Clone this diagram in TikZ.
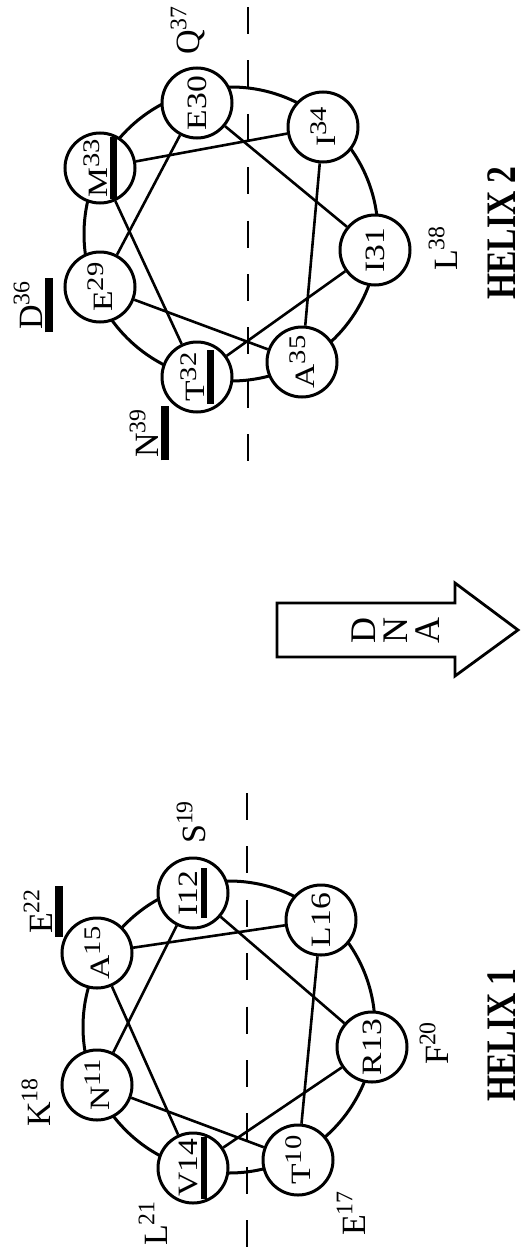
\documentclass[tikz,border=0pt]{standalone}
\usepackage{fontspec}
\usepackage{graphicx}
\setmainfont{Liberation Serif}
\newfontfamily\resfont{Liberation Serif}[FakeStretch=1.2]
\newfontfamily\helixfont{Liberation Serif}[FakeStretch=0.8]
\usepackage{tikz}

% thick bar under a residue name
\newcommand{\thickul}[1]{\setbox0\hbox{#1}\rlap{\kern-.08em\rule[-.32em]{\dimexpr\wd0+.16em\relax}{.22em}}\box0}
% raised number inside a residue circle
\newcommand{\rsup}[1]{\raisebox{.3em}{\scalebox{.85}{#1}}}

\tikzset{
  res/.style={circle, draw, line width=1.5pt, fill=white, minimum size=35pt, inner sep=0pt,
    rotate=90, font=\resfont\fontsize{14}{14}\selectfont},
  lbl/.style={anchor=base, inner sep=0pt, rotate=90, font=\fontsize{17}{17}\selectfont},
  link/.style={line width=1.3pt},
  ring/.style={line width=1.5pt},
  axis/.style={line width=1.3pt, dash pattern=on 13.5pt off 13.2pt},
  helixlbl/.style={rotate=90, anchor=base, inner sep=0pt, font=\helixfont\bfseries\fontsize{21}{21}\selectfont},
}

\begin{document}
\begin{tikzpicture}[x=0.5pt,y=-0.5pt]
\useasboundingbox (0,0) rectangle (525,1258);

% helix 2 (top)
\draw [ring] (231,234) circle (147);
\node [res] (e30) at (197,103) {E30};
\node [res] (i34) at (323,127) {I\rsup{34}};
\node [res] (i31) at (375,250) {I31};
\node [res] (a35) at (302,362) {A\rsup{35}};
\node [res] (t32) at (197,377) {\thickul{T\rsup{32}}};
\node [res] (e29) at (100,287) {E\rsup{29}};
\node [res] (m33) at (100,168) {\thickul{M\rsup{33}}};
\draw [link] (e29) -- (e30);
\draw [link] (e30) -- (i31);
\draw [link] (i31) -- (t32);
\draw [link] (t32) -- (m33);
\draw [link] (m33) -- (i34);
\draw [link] (i34) -- (a35);
\draw [link] (a35) -- (e29);
\node [lbl] (q37) at (199,30) {Q\textsuperscript{37}};
\node [lbl] (d36) at (42,305) {\thickul{D\textsuperscript{36}}};
\node [lbl] (l38) at (457,248) {L\textsuperscript{38}};
\node [lbl] (n39) at (158,433) {\thickul{N\textsuperscript{39}}};
\coordinate (axtwoa) at (248,7);
\coordinate (axtwob) at (248,467);
\draw [axis] (axtwoa) -- (axtwob);
\node [helixlbl] (helixtwo) at (515,233) {HELIX 2};

% DNA arrow
\draw [line width=1.4pt, line join=miter] (277,603) -- (455,603) -- (455,583) -- (518,630)
  -- (455,676) -- (455,657) -- (277,657) -- cycle;
\node [rotate=90, align=center, font=\fontsize{18}{16}\selectfont] (dna) at (396,630) {D\\N\\A};

% helix 1 (bottom)
\draw [ring] (229,1027) circle (146);
\node [res] (i12) at (193,893) {\thickul{I12}};
\node [res] (l16) at (321,920) {L16};
\node [res] (r13) at (372,1047) {R13};
\node [res] (t10) at (298,1160) {T\rsup{10}};
\node [res] (v14) at (193,1168) {\thickul{V14}};
\node [res] (n11) at (97,1085) {N\rsup{11}};
\node [res] (a15) at (97,953) {A\rsup{15}};
\draw [link] (t10) -- (n11);
\draw [link] (n11) -- (i12);
\draw [link] (i12) -- (r13);
\draw [link] (r13) -- (v14);
\draw [link] (v14) -- (a15);
\draw [link] (a15) -- (l16);
\draw [link] (l16) -- (t10);
\node [lbl] (k18) at (50,1102) {K\textsuperscript{18}};
\node [lbl] (e22) at (52,911) {\thickul{E\textsuperscript{22}}};
\node [lbl] (s19) at (205,822) {S\textsuperscript{19}};
\node [lbl] (f20) at (448,1043) {F\textsuperscript{20}};
\node [lbl] (l21) at (167,1223) {L\textsuperscript{21}};
\node [lbl] (e17) at (365,1213) {E\textsuperscript{17}};
\coordinate (axonea) at (247,793);
\coordinate (axoneb) at (247,1252);
\draw [axis] (axonea) -- (axoneb);
\node [helixlbl] (helixone) at (515,1035) {HELIX 1};
\end{tikzpicture}
\end{document}
